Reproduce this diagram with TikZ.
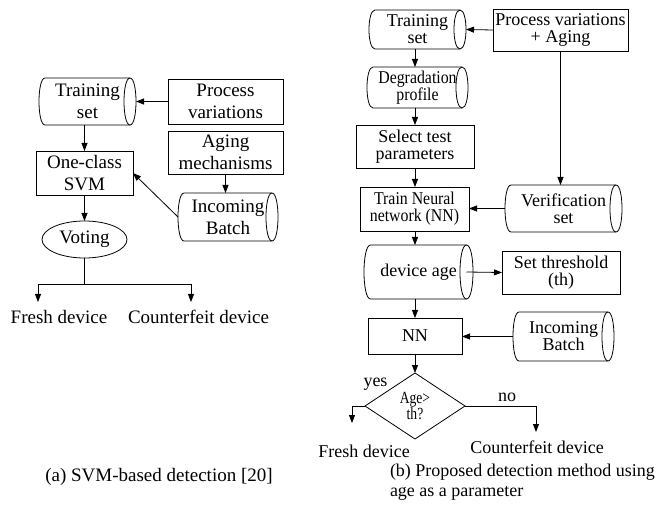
\documentclass[tikz,border=0pt]{standalone}
\usepackage{fontspec}
\setmainfont{Liberation Serif}
\usepackage{graphicx}
\usetikzlibrary{arrows.meta,shapes.geometric}
\tikzset{
  line/.style={line width=0.8pt},
  arr/.style={line, -{Triangle[length=8pt,width=6pt]}},
  lf/.style={font=\fontsize{19}{22}\selectfont},
  rf/.style={font=\fontsize{18}{17}\selectfont},
  box/.style={line, draw, rectangle, inner sep=0pt, outer sep=0pt, align=center},
  cyl/.style={rectangle, inner sep=0pt, outer sep=0pt, align=center},
  txt/.style={inner sep=0pt, outer sep=0pt, align=center}
}
\newcommand\cylout[2]{%
 \draw[line] ([xshift=#2pt]#1.north west) -- ([xshift=-#2pt]#1.north east)
   .. controls ([xshift=#2*0.3333pt]#1.north east) and ([xshift=#2*0.3333pt]#1.south east) .. ([xshift=-#2pt]#1.south east)
   -- ([xshift=#2pt]#1.south west)
   .. controls ([xshift=-#2*0.3333pt]#1.south west) and ([xshift=-#2*0.3333pt]#1.north west) .. ([xshift=#2pt]#1.north west) -- cycle;
 \draw[line] ([xshift=-#2pt]#1.north east) .. controls ([xshift=-#2*2.3333pt]#1.north east) and ([xshift=-#2*2.3333pt]#1.south east) .. ([xshift=-#2pt]#1.south east);
}
\newcommand\cond[1]{\scalebox{0.88}[1]{#1}}
\newcommand\condd[1]{\scalebox{0.8}[1]{#1}}
\begin{document}
\begin{tikzpicture}[x=1pt,y=-1pt]
\useasboundingbox (0,0) rectangle (657,508);
% ---------- left diagram ----------
\node[cyl,lf,minimum width=97pt,minimum height=47pt] (ts1) at (87.5,101.5) {Training\\set};
\cylout{ts1}{6}
\node[box,lf,minimum width=115pt,minimum height=45pt] (pv1) at (225.5,101.5) {Process\\variations};
\node[box,lf,minimum width=115pt,minimum height=43pt] (am1) at (225.5,152.5) {Aging\\mechanisms};
\node[cyl,lf,minimum width=100pt,minimum height=48pt] (ib1) at (228,217) {Incoming\\Batch};
\cylout{ib1}{6}
\node[box,lf,minimum width=97pt,minimum height=44pt] (svm) at (84.5,173) {One-class\\SVM};
\node[line,draw,ellipse,lf,inner sep=0pt,outer sep=0pt,minimum width=85pt,minimum height=37pt] (vot) at (84.5,239.5) {Voting};
\node[txt,lf] (fd1) at (59,317) {Fresh device};
\node[txt,lf] (cd1) at (198.5,317) {Counterfeit device};
\node[txt,lf] (capa) at (159,477) {(a) SVM-based detection [20]};

\draw[arr] (pv1.west) -- (ts1.east);
\draw[arr] (ts1.south -| svm.north) -- (svm.north);
\draw[arr] (am1.south) -- (am1.south |- ib1.north);
\draw[arr] (ib1.west) -- (svm.east);
\draw[arr] (svm.south) -- (vot.north);
\coordinate (j1) at (84.5,284);
\coordinate (fa) at (38,302);
\coordinate (ca) at (191,302);
\draw[line] (vot.south) -- (j1);
\draw[arr] (j1) -| (fa);
\draw[arr] (j1) -| (ca);

% ---------- right diagram ----------
\node[cyl,rf,minimum width=97pt,minimum height=39pt] (ts2) at (417.5,29.5) {Training\\set};
\cylout{ts2}{6}
\node[box,rf,minimum width=135pt,minimum height=42pt] (pva) at (560.5,30) {Process variations\\+ Aging};
\node[cyl,rf,minimum width=101pt,minimum height=41pt] (dp) at (417.5,87.5) {\cond{Degradation}\\\cond{profile}};
\cylout{dp}{6}
\node[box,rf,minimum width=118pt,minimum height=43pt] (stp) at (415,146.5) {Select test\\parameters};
\node[box,rf,minimum width=109pt,minimum height=44pt] (tnn) at (414.5,209) {\cond{Train Neural}\\\cond{network (NN)}};
\node[cyl,rf,minimum width=117pt,minimum height=47pt] (vs) at (563.5,208.5) {Verification\\set};
\cylout{vs}{6}
\node[cyl,rf,minimum width=109pt,minimum height=54pt] (da) at (418.5,272) {device age};
\cylout{da}{6.5}
\node[box,rf,minimum width=118pt,minimum height=43pt] (st) at (561,272.5) {Set threshold\\(th)};
\node[box,rf,minimum width=94pt,minimum height=36pt] (nn) at (415,336) {NN};
\node[cyl,rf,minimum width=101pt,minimum height=49pt] (ib2) at (563.5,336.5) {Incoming\\Batch};
\cylout{ib2}{6}
\node[line,draw,diamond,inner sep=0pt,outer sep=0pt,minimum width=100pt,minimum height=66pt,align=center,font=\fontsize{17}{15}\selectfont] (dia) at (415,406) {\condd{Age>}\\\condd{th?}};
\node[txt,rf] (yes) at (375.5,384) {yes};
\node[txt,rf] (no) at (507,397) {no};
\node[txt,rf] (fd2) at (364,451) {Fresh device};
\node[txt,rf] (cd2) at (537,447) {Counterfeit device};
\node[txt,anchor=west,align=left,font=\fontsize{18}{20}\selectfont] (capb) at (390,482) {(b) Proposed detection method using\\age as a parameter};

\draw[arr] (pva.west) -- (ts2.east);
\draw[arr] (ts2.south -| stp.north) -- (dp.north -| stp.north);
\draw[arr] (dp.south -| stp.north) -- (stp.north);
\draw[arr] (stp.south) -- (tnn.north -| stp.south);
\draw[arr] (tnn.south -| stp.south) -- (da.north -| stp.south);
\draw[arr] (da.south -| stp.south) -- (nn.north);
\draw[arr] (nn.south) -- (dia.north);
\draw[arr] (pva.south) -- (pva.south |- vs.north);
\draw[arr] (vs.west) -- (vs.west -| tnn.east);
\draw[arr] ([xshift=-6.5pt]da.east) -- (st.west);
\draw[arr] (ib2.west) -- (ib2.west -| nn.east);
\coordinate (fb) at (352,423);
\coordinate (cb) at (536,432);
\draw[arr] (dia.west) -| (fb);
\draw[arr] (dia.east) -| (cb);
\end{tikzpicture}
\end{document}
